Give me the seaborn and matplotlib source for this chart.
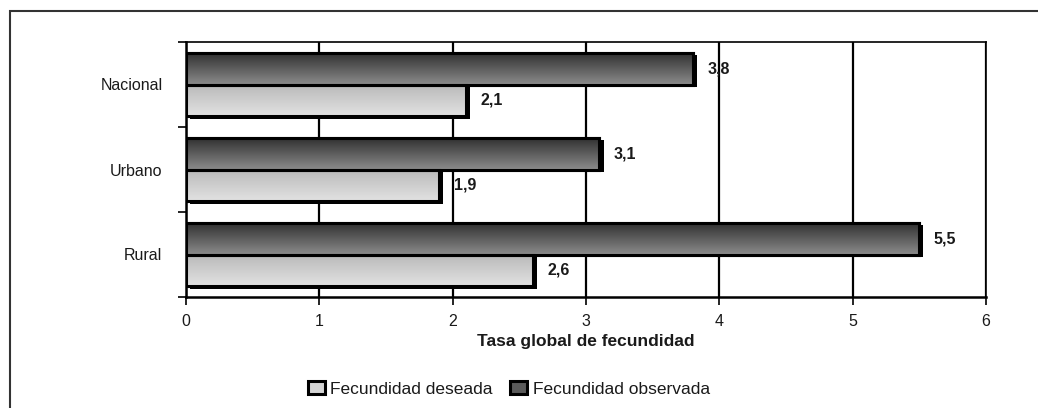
import numpy as np
import pandas as pd
import matplotlib
matplotlib.use("Agg")
import matplotlib.pyplot as plt
import matplotlib.patheffects as pe
from matplotlib.patches import Rectangle, Patch
import seaborn as sns

# Data
areas = ["Nacional", "Urbano", "Rural"]
observada = [3.8, 3.1, 5.5]
deseada = [2.1, 1.9, 2.6]
series_names = ["Fecundidad observada", "Fecundidad deseada"]
x_ticks = [0, 1, 2, 3, 4, 5, 6]
x_label = "Tasa global de fecundidad"

df = pd.DataFrame({
    "area": areas * 2,
    "serie": [series_names[0]] * 3 + [series_names[1]] * 3,
    "tgf": observada + deseada,
})

sns.set_theme(style="white")
plt.rcParams["font.family"] = ["Liberation Sans", "DejaVu Sans"]
txt = "#1a1a1a"

fig = plt.figure(figsize=(10.38, 4.08), dpi=100)
ax = fig.add_axes([186 / 1038, 1 - 297 / 408, 800 / 1038, 255 / 408])

sns.barplot(data=df, y="area", x="tgf", hue="serie", hue_order=series_names,
            order=areas, orient="h", width=0.75, errorbar=None,
            edgecolor="black", linewidth=2.2, ax=ax, legend=False, zorder=3)

# gradient fills clipped to each bar
grad = np.linspace(0, 1, 256).reshape(-1, 1)
dark_cmap = matplotlib.colors.LinearSegmentedColormap.from_list("d", ["#2e2e2e", "#8a8a8a"])
light_cmap = matplotlib.colors.LinearSegmentedColormap.from_list("l", ["#b9b9b9", "#e2e2e2"])
n = len(areas)
for i, bar in enumerate(ax.patches[:2 * n]):
    cmap = dark_cmap if i < n else light_cmap
    x0, y0 = bar.get_x(), bar.get_y()
    w, h = bar.get_width(), bar.get_height()
    bar.set_path_effects([pe.SimplePatchShadow(offset=(3, -2), shadow_rgbFace="black", alpha=1.0),
                          pe.Normal()])
    im = ax.imshow(grad, cmap=cmap, aspect="auto", extent=(x0, x0 + w, y0 + h, y0),
                   zorder=3.5, interpolation="bilinear")
    im.set_clip_path(bar)
    # border on top of the gradient
    ax.add_patch(Rectangle((x0, y0), w, h, fill=False, edgecolor="black", linewidth=2.2, zorder=4))

# value labels
for i, bar in enumerate(ax.patches[:2 * n]):
    w = bar.get_width()
    yc = bar.get_y() + bar.get_height() / 2
    ax.text(w + 0.11, yc, f"{w:.1f}".replace(".", ","), va="center", ha="left",
            fontsize=11.5, color=txt, fontweight="bold", zorder=5)

ax.set_xlim(0, 6)
ax.set_ylim(2.5, -0.5)
ax.set_xticks(x_ticks)
ax.set_xticklabels([str(t) for t in x_ticks], fontsize=11.5, color=txt)
ax.set_yticks(range(n))
ax.set_yticklabels(areas, fontsize=11.5, color=txt)
ax.set_yticks([-0.5, 0.5, 1.5, 2.5], minor=True)
ax.tick_params(axis="y", which="major", length=0, pad=17)
ax.tick_params(axis="y", which="minor", length=6, width=1.2, color="black", left=True)
ax.tick_params(axis="x", length=6, width=1.2, color="black", bottom=True, pad=6)
ax.set_xlabel(x_label, fontsize=12.5, fontweight="bold", color=txt, labelpad=4)
ax.set_ylabel("")
ax.grid(axis="x", color="black", linewidth=1.6, zorder=0)
ax.set_axisbelow(True)
for side, sp in ax.spines.items():
    sp.set_visible(True)
    sp.set_color("black")
    sp.set_linewidth(1.2 if side in ("top", "right") else 1.8)

# legend
handles = [
    Patch(facecolor="#d4d4d4", edgecolor="black", linewidth=2.2, label=series_names[1]),
    Patch(facecolor="#5a5a5a", edgecolor="black", linewidth=2.2, label=series_names[0]),
]
fig.legend(handles=handles, loc="center", bbox_to_anchor=(0.49, 1 - 389 / 408), ncol=2,
           frameon=False, fontsize=12.5, handlelength=1.0, handleheight=0.8,
           handletextpad=0.3, columnspacing=1.0, labelcolor=txt)

# outer frame
fig.add_artist(Rectangle((10 / 1038, -0.1), 1.2, 1 - 11 / 408 + 0.1, transform=fig.transFigure,
                         fill=False, edgecolor="#333333", linewidth=1.5))

fig.savefig("out.png", dpi=100, facecolor="white")
